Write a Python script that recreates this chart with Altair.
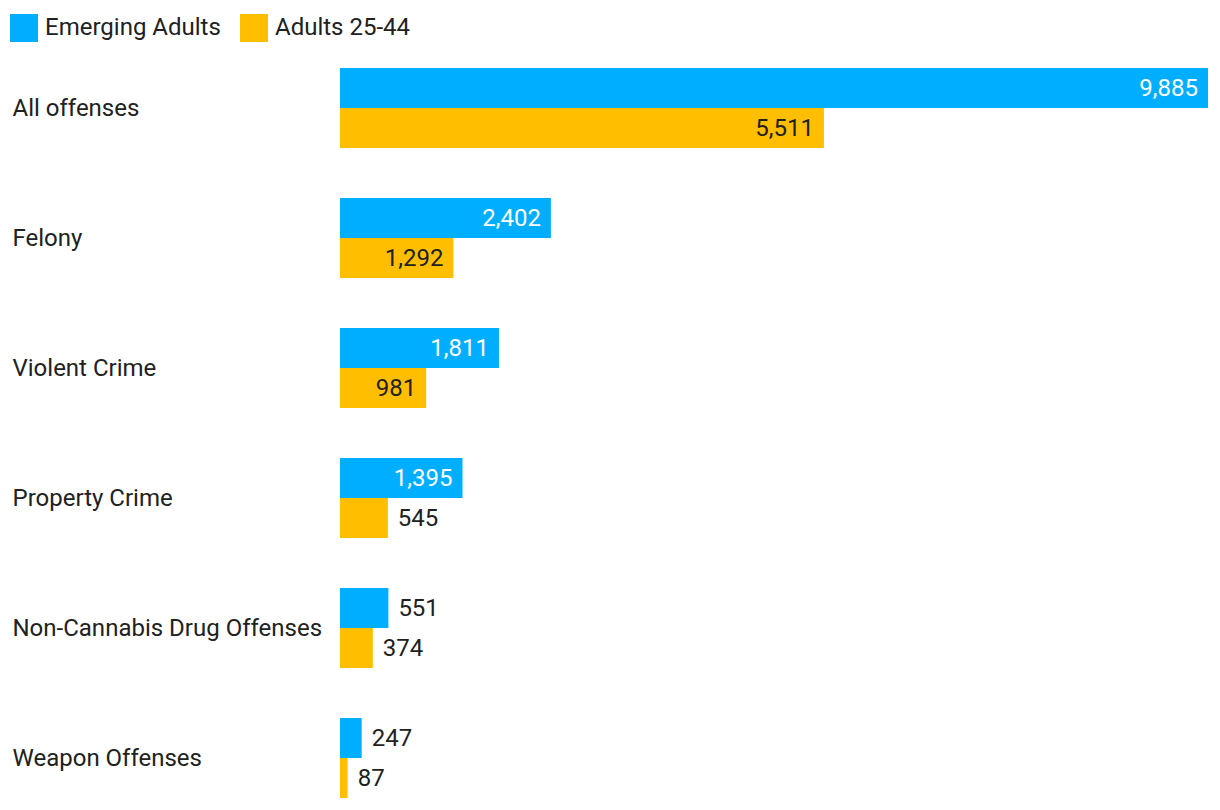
import altair as alt
import pandas as pd

categories = ["All offenses", "Felony", "Violent Crime", "Property Crime",
              "Non-Cannabis Drug Offenses", "Weapon Offenses"]
series_names = ["Emerging Adults", "Adults 25-44"]
emerging = [9885, 2402, 1811, 1395, 551, 247]
adults = [5511, 1292, 981, 545, 374, 87]
colors = ["#00AEFF", "#FFBE00"]

rows = []
for c, e, a in zip(categories, emerging, adults):
    rows.append({"category": c, "series": series_names[0], "value": e})
    rows.append({"category": c, "series": series_names[1], "value": a})
df = pd.DataFrame(rows)

FONT = "Roboto"
FS = 24
TXT = "#212121"

y_enc = alt.Y("category:N", sort=categories,
              scale=alt.Scale(paddingInner=50 / 130, paddingOuter=0),
              axis=alt.Axis(title=None, domain=False, ticks=False, tickSize=0,
                            labelAlign="left", labelPadding=328, labelLimit=400,
                            labelOffset=1,
                            labelFont=FONT, labelFontSize=FS, labelColor=TXT))
yoff = alt.YOffset("series:N", sort=series_names,
                   scale=alt.Scale(paddingInner=0, paddingOuter=0))
x_enc = alt.X("value:Q", scale=alt.Scale(domain=[0, 9885], nice=False, zero=True), axis=None)

base = alt.Chart(df).encode(y=y_enc, yOffset=yoff, x=x_enc)

bars = base.mark_bar(cornerRadius=0).encode(
    color=alt.Color("series:N", sort=series_names,
                    scale=alt.Scale(domain=series_names, range=colors),
                    legend=alt.Legend(title=None, orient="none", direction="horizontal",
                                      legendX=-330, legendY=-54,
                                      symbolType="square", symbolSize=784,
                                      symbolStrokeWidth=0, symbolOpacity=1,
                                      labelFont=FONT, labelFontSize=FS, labelLimit=400,
                                      labelColor=TXT, labelOffset=7,
                                      columnPadding=19))
)

inside = base.transform_filter("datum.value > 700").mark_text(
    align="right", dx=-10, dy=1, font=FONT, fontSize=FS, baseline="middle"
).encode(
    text=alt.Text("value:Q", format=",d"),
    color=alt.condition(alt.datum.series == series_names[0],
                        alt.value("#ffffff"), alt.value(TXT))
)

outside = base.transform_filter("datum.value <= 700").mark_text(
    align="left", dx=10, dy=1, font=FONT, fontSize=FS, baseline="middle", color=TXT
).encode(text=alt.Text("value:Q", format=",d"))

chart = alt.layer(bars, inside, outside).properties(
    width=868, height=730,
    autosize=alt.AutoSizeParams(type="none"),
    padding={"left": 332, "top": 60, "right": 4, "bottom": 4},
).configure_view(stroke=None)

chart.save("out.html", embed_options={"renderer": "svg", "actions": False})
